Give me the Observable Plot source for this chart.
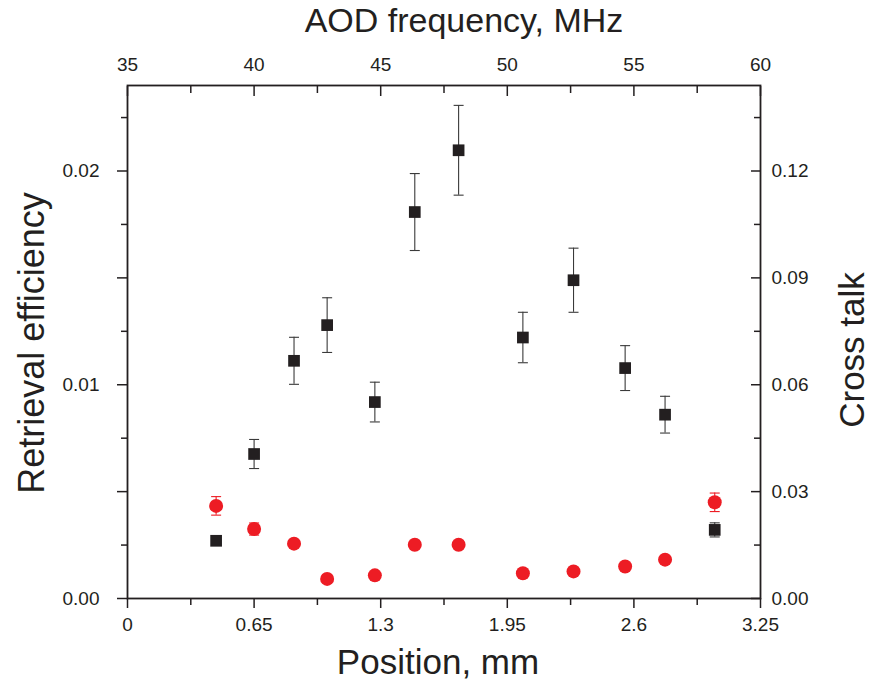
<!DOCTYPE html>
<html>
<head>
<meta charset="utf-8">
<script src="https://cdn.jsdelivr.net/npm/d3@7"></script>
<script src="https://cdn.jsdelivr.net/npm/@observablehq/plot@0.6"></script>
<style>
  html, body { margin: 0; padding: 0; background: #fff; }
</style>
</head>
<body>
<div id="chart"></div>
<script>
// ---- data ----
const positionMm     = [0.455, 0.65, 0.855, 1.025, 1.27, 1.475, 1.70, 2.03, 2.29, 2.555, 2.76, 3.015];
const efficiency     = [0.00270, 0.00676, 0.01112, 0.01279, 0.00919, 0.01808, 0.02097, 0.01221, 0.01489, 0.01078, 0.00860, 0.00321];
const efficiencyErr  = [0, 0.00068, 0.0011, 0.00128, 0.00093, 0.0018, 0.0021, 0.00118, 0.0015, 0.00105, 0.00086, 0.00033];
const crossTalk      = [0.0260, 0.0195, 0.0154, 0.0055, 0.0065, 0.0151, 0.0151, 0.0071, 0.0076, 0.0090, 0.0109, 0.0270];
const crossTalkErr   = [0.0026, 0.0017, 0, 0, 0, 0, 0, 0, 0, 0, 0, 0.0026];

// ---- axes ----
const positionTicks  = [0, 0.65, 1.3, 1.95, 2.6, 3.25];
const positionLabels = ["0", "0.65", "1.3", "1.95", "2.6", "3.25"];
const freqTicks      = [35, 40, 45, 50, 55, 60];
const freqLabels     = ["35", "40", "45", "50", "55", "60"];
const effTicks       = [0, 0.01, 0.02];
const effLabels      = ["0.00", "0.01", "0.02"];
const crossTicks     = [0, 0.03, 0.06, 0.09, 0.12];
const crossLabels    = ["0.00", "0.03", "0.06", "0.09", "0.12"];

const titleTop    = "AOD frequency, MHz";
const titleBottom = "Position, mm";
const titleLeft   = "Retrieval efficiency";
const titleRight  = "Cross talk";

// scale relations between paired axes
const freqToMm = f => (f - 35) * 3.25 / 25;   // 35 MHz ↔ 0 mm, 60 MHz ↔ 3.25 mm
const crossToEff = c => c / 6;                 // right axis = 6 × left axis

const ink = "#231f20";
const red = "#ED1C24";
const font = '"Liberation Sans", Arial, Helvetica, sans-serif';

const squares = positionMm.map((x, i) => ({x, y: efficiency[i], e: efficiencyErr[i]}));
const circles = positionMm.map((x, i) => ({x, y: crossToEff(crossTalk[i]), e: crossToEff(crossTalkErr[i])}));
const sqErr = squares.filter(d => d.e > 0);
const ciErr = circles.filter(d => d.e > 0);

const cap = {draw(ctx) { ctx.moveTo(-5, 0); ctx.lineTo(5, 0); }};

// minor ticks halfway between majors
const mid = arr => d3.pairs(arr).map(([a, b]) => (a + b) / 2);
const posMajor = positionTicks;
const posMinor = mid(positionTicks);
const freqMajor = freqTicks.map(freqToMm);
const freqMinor = mid(freqTicks).map(freqToMm);
const effMajor = d3.range(0, 0.0201, 0.005);
const effMinor = d3.range(0.0025, 0.0235, 0.005);
const crossMajor = crossTicks.map(crossToEff);
const crossMinor = d3.range(0.015, 0.14, 0.03).map(crossToEff);

const lab = (ticks, labels) => { const m = new Map(ticks.map((t, i) => [t, labels[i]])); return d => m.get(d); };
const fmtPos = lab(positionTicks, positionLabels);
const fmtFreq = lab(freqMajor, freqLabels);
const fmtEff = lab(effTicks, effLabels);
const fmtCross = lab(crossMajor, crossLabels);

const tk = {fill: "none", stroke: ink, strokeWidth: 1.5, label: null};
const tx = {tickSize: 0, fill: ink, fontSize: 19, fontFamily: font, label: null};

const chart = Plot.plot({
  width: 869,
  height: 682,
  marginLeft: 127,
  marginRight: 109,
  marginTop: 85,
  marginBottom: 84,
  style: {background: "#fff", fontFamily: font, color: ink},
  x: {domain: [0, 3.25], axis: null},
  y: {domain: [0, 0.024], axis: null},
  marks: [
    // ticks
    Plot.axisX(posMajor, {...tk, anchor: "bottom", tickSize: 10}),
    Plot.axisX(posMinor, {...tk, anchor: "bottom", tickSize: 7}),
    Plot.axisX(freqMajor, {...tk, anchor: "top", tickSize: 10, dy: 10}),
    Plot.axisX(freqMinor, {...tk, anchor: "top", tickSize: 7, dy: 7}),
    Plot.axisY(effMajor, {...tk, anchor: "left", tickSize: 10}),
    Plot.axisY(effMinor, {...tk, anchor: "left", tickSize: 6}),
    Plot.axisY(crossMajor, {...tk, anchor: "right", tickSize: 10, dx: -10}),
    Plot.axisY(crossMinor, {...tk, anchor: "right", tickSize: 7, dx: -7}),
    // tick labels
    Plot.axisX(positionTicks, {...tx, anchor: "bottom", tickPadding: 19, tickFormat: fmtPos}),
    Plot.axisX(freqMajor, {...tx, anchor: "top", tickPadding: 15, tickFormat: fmtFreq}),
    Plot.axisY(effTicks, {...tx, anchor: "left", tickPadding: 28, tickFormat: fmtEff}),
    Plot.axisY(crossMajor, {...tx, anchor: "right", tickPadding: 11, tickFormat: fmtCross}),
    // frame
    Plot.frame({stroke: ink, strokeWidth: 1.8}),
    // error bars
    Plot.ruleX(sqErr, {x: "x", y1: d => d.y - d.e, y2: d => d.y + d.e, stroke: "#3a3a3a", strokeWidth: 1.1}),
    Plot.dot(sqErr, {x: "x", y: d => d.y + d.e, symbol: cap, stroke: "#3a3a3a", strokeWidth: 1.1, r: 3}),
    Plot.dot(sqErr, {x: "x", y: d => d.y - d.e, symbol: cap, stroke: "#3a3a3a", strokeWidth: 1.1, r: 3}),
    Plot.ruleX(ciErr, {x: "x", y1: d => d.y - d.e, y2: d => d.y + d.e, stroke: red, strokeWidth: 1.1}),
    Plot.dot(ciErr, {x: "x", y: d => d.y + d.e, symbol: cap, stroke: red, strokeWidth: 1.1, r: 3}),
    Plot.dot(ciErr, {x: "x", y: d => d.y - d.e, symbol: cap, stroke: red, strokeWidth: 1.1, r: 3}),
    // markers
    Plot.dot(squares, {x: "x", y: "y", symbol: "square", r: 6.6, fill: ink, stroke: "none"}),
    Plot.dot(circles, {x: "x", y: "y", symbol: "circle", r: 7, fill: red, stroke: "none"}),
    // titles
    Plot.text([titleBottom], {frameAnchor: "bottom", text: d => d, textAnchor: "middle", lineAnchor: "bottom", dx: -6, dy: 75, fontSize: 35, fontFamily: font, fill: ink}),
    Plot.text([titleTop], {frameAnchor: "top", text: d => d, textAnchor: "middle", lineAnchor: "bottom", dx: 20, dy: -54, fontSize: 34, fontFamily: font, fill: ink}),
    Plot.text([titleLeft], {frameAnchor: "left", text: d => d, textAnchor: "middle", rotate: -90, lineAnchor: "bottom", dx: -84, dy: 1, fontSize: 36, fontFamily: font, fill: ink}),
    Plot.text([titleRight], {frameAnchor: "right", text: d => d, textAnchor: "middle", rotate: -90, lineAnchor: "bottom", dx: 103, dy: 8, fontSize: 35, fontFamily: font, fill: ink})
  ]
});
document.getElementById("chart").appendChild(chart);
</script>
</body>
</html>
